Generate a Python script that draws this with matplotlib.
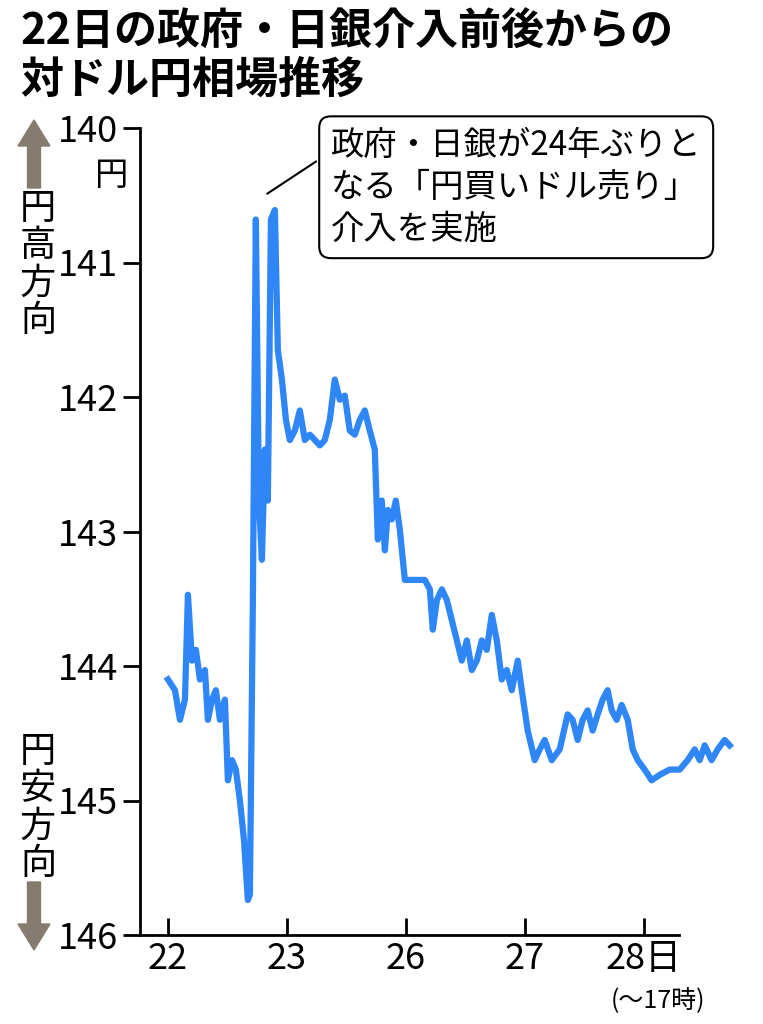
import matplotlib
matplotlib.use("Agg")
import matplotlib.pyplot as plt
from matplotlib.patches import FancyArrow

plt.rcParams['font.family'] = ['Noto Sans CJK JP', 'DejaVu Sans']

t = [0,.059,.101,.143,.168,.202,.235,.269,.311,.336,.370,.403,.437,.479,.504,.538,.571,.605,.639,.672,.689,.714,.739,.765,.790,.815,.840,.866,.899,.924,.958,.992,1.025,1.067,1.109,1.151,1.193,1.235,1.277,1.319,1.361,1.403,1.445,1.487,1.529,1.571,1.613,1.655,1.697,1.739,1.765,1.798,1.824,1.849,1.882,1.916,1.950,1.992,2.076,2.160,2.202,2.227,2.261,2.303,2.345,2.387,2.429,2.471,2.513,2.555,2.597,2.639,2.681,2.723,2.765,2.807,2.849,2.891,2.941,2.975,3.025,3.084,3.126,3.168,3.227,3.294,3.361,3.403,3.445,3.487,3.529,3.571,3.613,3.655,3.697,3.731,3.773,3.815,3.866,3.908,3.950,4.008,4.067,4.134,4.218,4.303,4.370,4.429,4.471,4.513,4.571,4.622,4.681,4.723]
rate = [144.10,144.18,144.40,144.25,143.47,143.96,143.88,144.10,144.03,144.40,144.25,144.18,144.40,144.25,144.85,144.70,144.77,145.00,145.29,145.74,145.70,143.51,140.68,142.77,143.21,142.39,142.77,140.68,140.61,141.65,141.87,142.17,142.32,142.25,142.10,142.32,142.28,142.32,142.36,142.32,142.17,141.87,142.02,141.99,142.25,142.28,142.17,142.10,142.25,142.39,143.06,142.77,143.14,142.84,142.91,142.77,142.99,143.36,143.36,143.36,143.43,143.73,143.51,143.43,143.51,143.66,143.81,143.96,143.81,144.03,143.96,143.81,143.88,143.62,143.81,144.10,144.03,144.18,143.96,144.18,144.48,144.70,144.62,144.55,144.70,144.62,144.36,144.40,144.55,144.40,144.33,144.48,144.36,144.25,144.18,144.33,144.40,144.29,144.40,144.62,144.70,144.77,144.85,144.81,144.77,144.77,144.70,144.62,144.70,144.59,144.70,144.62,144.55,144.59]
n = min(len(t), len(rate))
t, rate = t[:n], rate[:n]

xticks = [0, 1, 2, 3, 4]
xlabels = ['22', '23', '26', '27', '28日']
yticks = [140, 141, 142, 143, 144, 145, 146]

W, H = 763, 1024
fig = plt.figure(figsize=(W/100, H/100), dpi=100)
ax = fig.add_axes([140/W, 1-935/H, 600/W, (935-128)/H])
ax.plot(t, rate, color='#2f86f6', lw=4.5, solid_joinstyle='round')
ax.set_ylim(146, 140)
ax.set_xlim(-0.235, 4.81)
ax.set_yticks(yticks)
ax.set_yticklabels([str(v) for v in yticks], fontsize=26)
ax.set_xticks(xticks)
ax.set_xticklabels(xlabels, fontsize=26)
ax.tick_params(axis='y', length=12, width=2, pad=4)
ax.tick_params(axis='x', length=12, width=2, direction='in', pad=4)
for s in ['top', 'right']:
    ax.spines[s].set_visible(False)
ax.spines['left'].set_linewidth(2)
ax.spines['bottom'].set_linewidth(2)
ax.spines['bottom'].set_bounds(-0.235, 4.3)

fig.text(20/W, 1-10/H, '22日の政府・日銀介入前後からの\n対ドル円相場推移', fontsize=31,
         fontweight='bold', va='top', ha='left', linespacing=1.1)
fig.text(112/W, 1-175/H, '円', fontsize=24, ha='center', va='center')
fig.text(658/W, 1-1000/H, '(～17時)', fontsize=18, ha='center', va='center')

ax.annotate('政府・日銀が24年ぶりと\nなる「円買いドル売り」\n介入を実施', xy=(0.815, 140.5),
            xytext=(1.37, 140.0), fontsize=24, va='top', ha='left', linespacing=1.25,
            bbox=dict(boxstyle='round,pad=0.35', fc='white', ec='black', lw=1.5),
            arrowprops=dict(arrowstyle='-', color='black', lw=1.5, relpos=(0.0, 0.8)))

grey = '#857b6f'
fig.patches.append(FancyArrow(34/W, 1-188/H, 0, 68/H, width=13/W, head_width=32/W,
                              head_length=26/H, length_includes_head=True,
                              color=grey, transform=fig.transFigure))
fig.patches.append(FancyArrow(34/W, 1-882/H, 0, -68/H, width=13/W, head_width=32/W,
                              head_length=26/H, length_includes_head=True,
                              color=grey, transform=fig.transFigure))
fig.text(38/W, 1-265/H, '円\n高\n方\n向', fontsize=26, ha='center', va='center', linespacing=1.05)
fig.text(38/W, 1-808/H, '円\n安\n方\n向', fontsize=26, ha='center', va='center', linespacing=1.05)

fig.savefig('out.png', dpi=100)
